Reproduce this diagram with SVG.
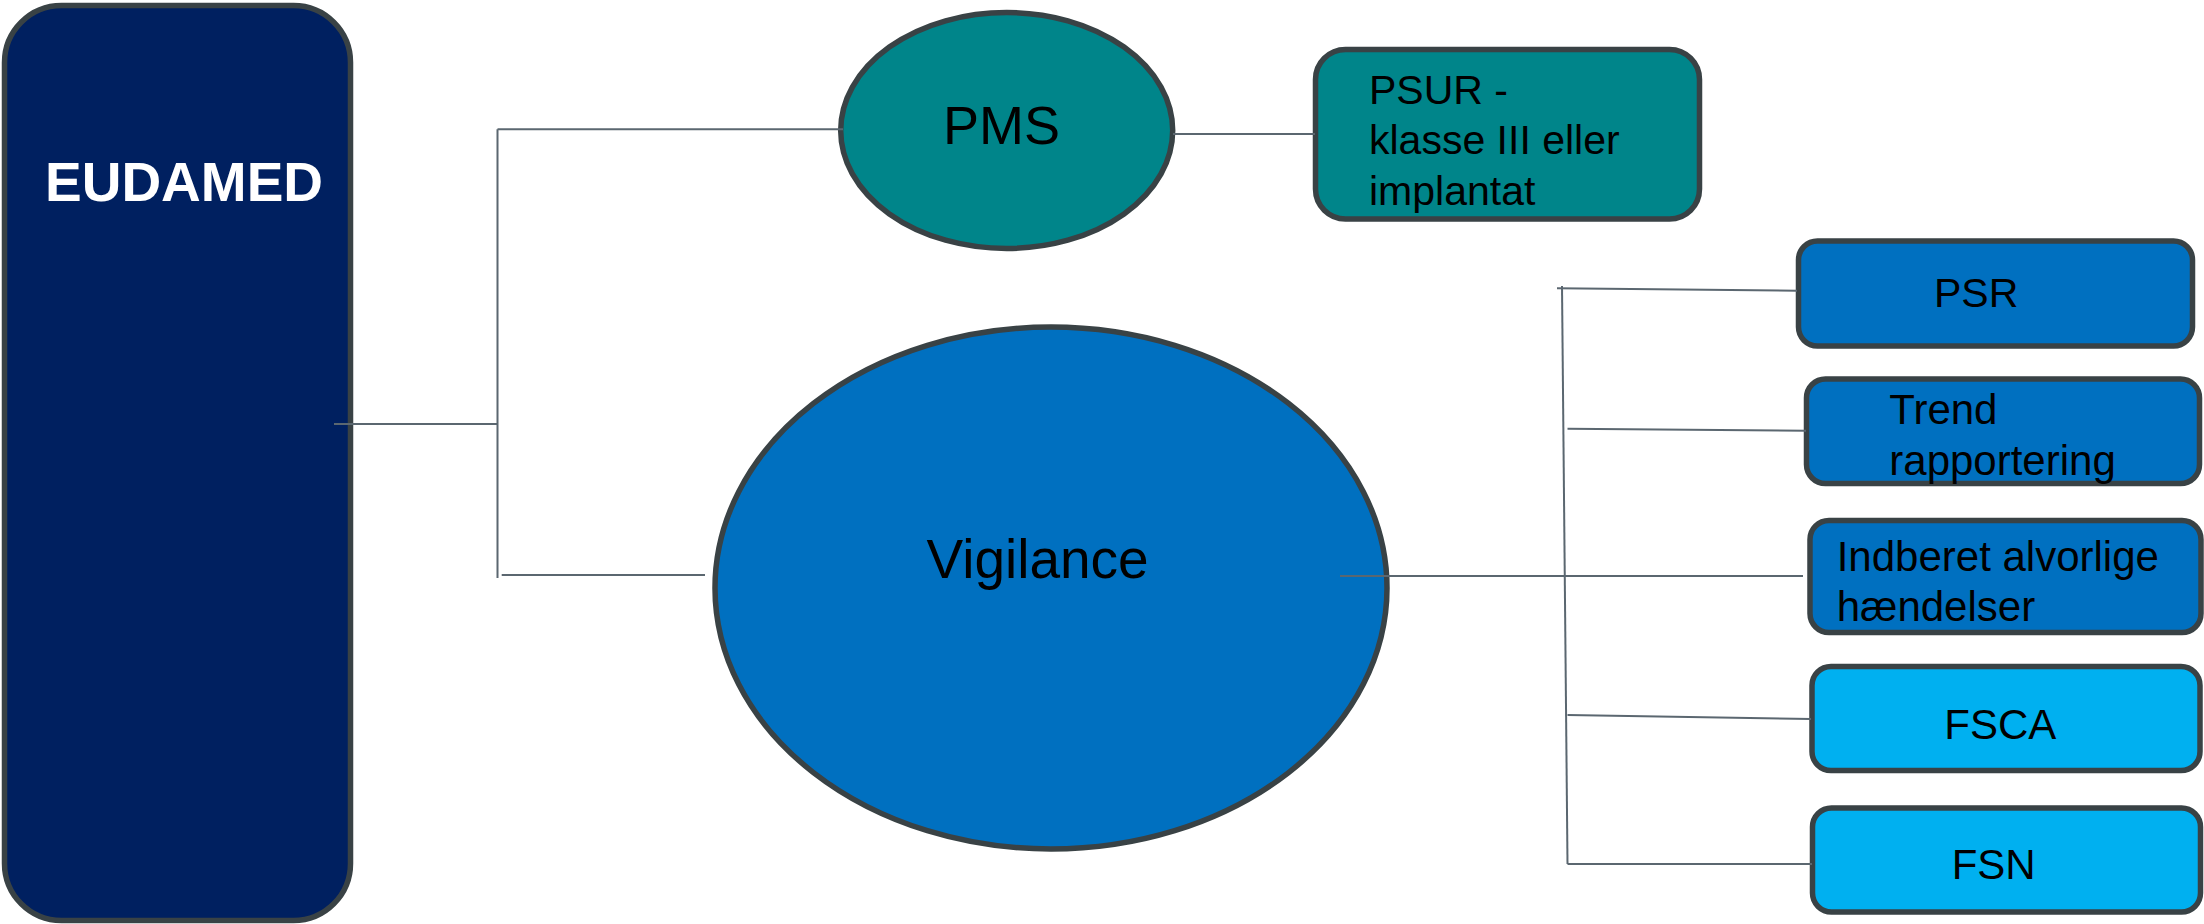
<svg xmlns="http://www.w3.org/2000/svg" width="2204" height="924" viewBox="0 0 2204 924">
<style>
.node{stroke:#394245;stroke-width:5.5}
.navy{fill:#002060}
.teal{fill:#00858A}
.blue{fill:#0070C0}
.sky{fill:#00B0F0}
.t{font-family:"Liberation Sans",Arial,sans-serif;fill:#000}
.conn{fill:none;stroke:#5B6770;stroke-width:2}
</style>
<rect width="2204" height="924" fill="#fff"/>
<g id="eudamed">
<rect class="node navy" x="4.5" y="5.5" width="346" height="915" rx="57"/>
<text class="t" x="45" y="201" font-size="55" font-weight="bold" style="fill:#fff">EUDAMED</text>
</g>
<g id="pms">
<ellipse class="node teal" cx="1006.7" cy="130.5" rx="166" ry="118"/>
<text class="t" x="943" y="144" font-size="54">PMS</text>
</g>
<g id="psur">
<rect class="node teal" x="1315.5" y="49.5" width="384" height="169.5" rx="30"/>
<text class="t" font-size="41"><tspan x="1369" y="104">PSUR -</tspan><tspan x="1369" y="154">klasse III eller</tspan><tspan x="1369" y="205">implantat</tspan></text>
</g>
<g id="vigilance">
<ellipse class="node blue" cx="1051" cy="588" rx="336" ry="261"/>
<text class="t" x="926.5" y="578" font-size="55">Vigilance</text>
</g>
<g id="psr">
<rect class="node blue" x="1798.5" y="241" width="394" height="105" rx="19"/>
<text class="t" x="1934" y="307" font-size="41">PSR</text>
</g>
<g id="trend">
<rect class="node blue" x="1806.5" y="379" width="393" height="104.5" rx="19"/>
<text class="t" font-size="42"><tspan x="1889.3" y="424">Trend</tspan><tspan x="1889.3" y="475">rapportering</tspan></text>
</g>
<g id="indberet">
<rect class="node blue" x="1810" y="520.5" width="391" height="112" rx="19"/>
<text class="t" font-size="42"><tspan x="1836.7" y="570.7">Indberet alvorlige</tspan><tspan x="1836.7" y="620.7">hændelser</tspan></text>
</g>
<g id="fsca">
<rect class="node sky" x="1812" y="666.5" width="388" height="104" rx="19"/>
<text class="t" x="1944.3" y="739.3" font-size="42">FSCA</text>
</g>
<g id="fsn">
<rect class="node sky" x="1812.5" y="808" width="388" height="104" rx="19"/>
<text class="t" x="1951.7" y="879.3" font-size="42">FSN</text>
</g>
<g id="connectors">
<path class="conn" d="M334 424 H497.5"/>
<path class="conn" d="M497.5 129.3 V578"/>
<path class="conn" d="M497.5 129.3 H843"/>
<path class="conn" d="M501.7 575 H705"/>
<path class="conn" d="M1173 134 H1315"/>
<path class="conn" d="M1340 576 H1803"/>
<path class="conn" d="M1562 286 L1567.5 864"/>
<path class="conn" d="M1557 288.3 L1797 290.7"/>
<path class="conn" d="M1567.5 428.7 L1806 430.7"/>
<path class="conn" d="M1567.5 715 L1811 719"/>
<path class="conn" d="M1567.5 864 H1812"/>
</g>
</svg>
